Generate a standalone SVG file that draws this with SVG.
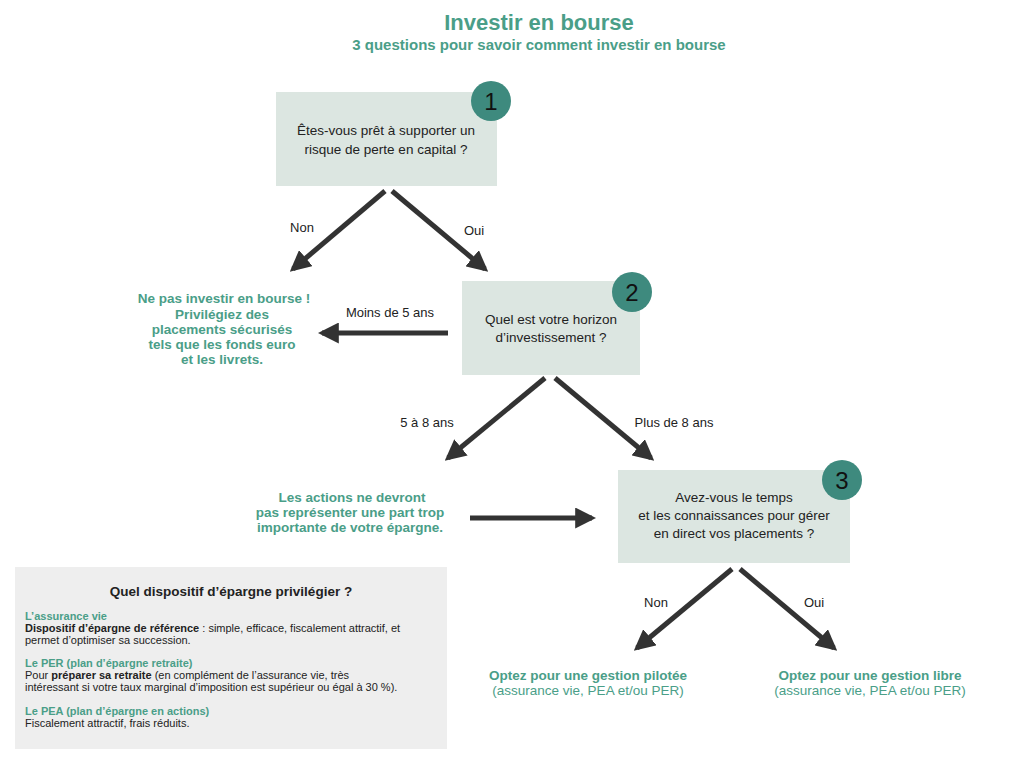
<svg xmlns="http://www.w3.org/2000/svg" width="1024" height="762" viewBox="0 0 1024 762">
<style>
text{font-family:"Liberation Sans",Arial,sans-serif}
.t{fill:#4a9e88;font-weight:bold}
.q{font-size:13.5px;fill:#222;text-anchor:middle}
.l{font-size:13px;fill:#222;text-anchor:middle}
.box{fill:#dce6e1}
.num{fill:#3e8a7e}
.n{font-size:24px;fill:#111;text-anchor:middle}
.c{stroke:#333;stroke-width:5;fill:none;marker-end:url(#a)}
.s{font-size:11px;fill:#222}
.st{font-size:11px;fill:#4a9e88;font-weight:bold}
</style>
<defs><marker id="a" viewBox="0 0 10 10" refX="8" refY="5" markerWidth="4.2" markerHeight="4.2" orient="auto" markerUnits="strokeWidth"><path d="M0,0L10,5L0,10z" fill="#333"/></marker></defs>
<rect width="1024" height="762" fill="#fff"/>
<text x="539" y="30" class="t" font-size="22" text-anchor="middle">Investir en bourse</text>
<text x="539" y="50" class="t" font-size="15" text-anchor="middle">3 questions pour savoir comment investir en bourse</text>
<g id="n1"><rect class="box" x="276" y="92" width="221" height="94"/><circle class="num" cx="491" cy="101" r="20"/><text class="n" x="491" y="110">1</text>
<text class="q" x="386" y="135">Êtes-vous prêt à supporter un</text><text class="q" x="386" y="154">risque de perte en capital ?</text></g>
<g id="n2"><rect class="box" x="462" y="281" width="178" height="94"/><circle class="num" cx="632" cy="292" r="20"/><text class="n" x="632" y="301">2</text>
<text class="q" x="551" y="324">Quel est votre horizon</text><text class="q" x="551" y="342">d’investissement ?</text></g>
<g id="n3"><rect class="box" x="618" y="470" width="232" height="93"/><circle class="num" cx="842" cy="480" r="20"/><text class="n" x="842" y="489">3</text>
<text class="q" x="734" y="502">Avez-vous le temps</text><text class="q" x="734" y="520">et les connaissances pour gérer</text><text class="q" x="734" y="538">en direct vos placements ?</text></g>
<g id="r1" class="t" font-size="13.5" text-anchor="middle"><text x="224" y="303">Ne pas investir en bourse !</text><text x="222" y="319">Privilégiez des</text><text x="222" y="334">placements sécurisés</text><text x="222" y="349">tels que les fonds euro</text><text x="222" y="364">et les livrets.</text></g>
<g id="r2" class="t" font-size="13.5" text-anchor="middle"><text x="352" y="502">Les actions ne devront</text><text x="350" y="517">pas représenter une part trop</text><text x="350" y="532">importante de votre épargne.</text></g>
<g id="r3" text-anchor="middle"><text x="588" y="680" class="t" font-size="13.5">Optez pour une gestion pilotée</text><text x="588" y="695" font-size="13.5" fill="#4a9e88">(assurance vie, PEA et/ou PER)</text></g>
<g id="r4" text-anchor="middle"><text x="870" y="680" class="t" font-size="13.5">Optez pour une gestion libre</text><text x="870" y="695" font-size="13.5" fill="#4a9e88">(assurance vie, PEA et/ou PER)</text></g>
<g id="connectors">
<path class="c" d="M385,191L293,269"/><path class="c" d="M392,191L485,269"/>
<path class="c" d="M448,333L322,333"/>
<path class="c" d="M545,378L448,458"/><path class="c" d="M555,378L651,458"/>
<path class="c" d="M470,518L592,518"/>
<path class="c" d="M732,569L637,648"/><path class="c" d="M740,569L834,648"/>
<text class="l" x="302" y="232">Non</text><text class="l" x="474" y="235">Oui</text>
<text class="l" x="390" y="317">Moins de 5 ans</text>
<text class="l" x="427" y="427">5 à 8 ans</text><text class="l" x="674" y="427">Plus de 8 ans</text>
<text class="l" x="656" y="607">Non</text><text class="l" x="814" y="607">Oui</text>
</g>
<g id="info"><rect x="15" y="567" width="432" height="182" fill="#eeeeee"/>
<text x="231" y="596" font-size="13.5" font-weight="bold" fill="#222" text-anchor="middle">Quel dispositif d’épargne privilégier ?</text>
<text x="25" y="620" class="st">L’assurance vie</text>
<text x="25" y="632" class="s"><tspan font-weight="bold">Dispositif d’épargne de référence</tspan> : simple, efficace, fiscalement attractif, et</text>
<text x="25" y="644" class="s">permet d’optimiser sa succession.</text>
<text x="25" y="667" class="st">Le PER (plan d’épargne retraite)</text>
<text x="25" y="679" class="s">Pour <tspan font-weight="bold">préparer sa retraite</tspan> (en complément de l’assurance vie, très</text>
<text x="25" y="691" class="s">intéressant si votre taux marginal d’imposition est supérieur ou égal à 30 %).</text>
<text x="25" y="715" class="st">Le PEA (plan d’épargne en actions)</text>
<text x="25" y="727" class="s">Fiscalement attractif, frais réduits.</text>
</g>
</svg>
